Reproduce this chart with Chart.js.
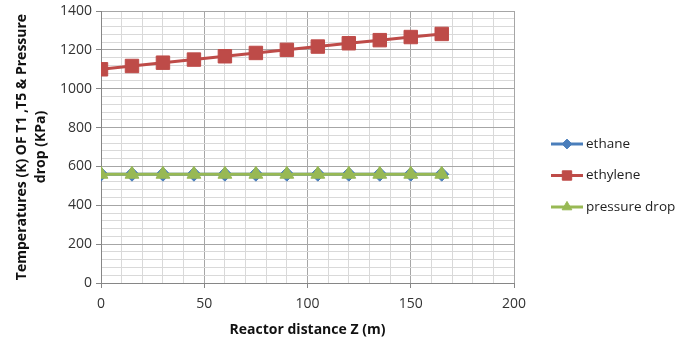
<!DOCTYPE html>
<html>
<head>
<meta charset="utf-8">
<script src="https://cdn.jsdelivr.net/npm/chart.js@4.4.1/dist/chart.umd.min.js"></script>
<style>
  html, body { margin: 0; padding: 0; background: #fff; }
  #wrap { width: 680px; height: 351px; position: relative; }
</style>
</head>
<body>
<div id="wrap"><canvas id="reactorChart"></canvas></div>
<script>
// reactor distance (m)
var distances = [0, 15, 30, 45, 60, 75, 90, 105, 120, 135, 150, 165];
var ethane = [560, 560, 560, 560, 560, 560, 560, 560, 560, 560, 560, 560];
var ethylene = [1100, 1117, 1134, 1150, 1167, 1184, 1200, 1217, 1234, 1250, 1266, 1282];
var pressureDrop = [560, 560, 560, 560, 560, 560, 560, 560, 560, 560, 560, 560];

var seriesNames = ["ethane", "ethylene", "pressure drop"];

function points(vals) {
  return distances.map(function (d, i) { return { x: d, y: vals[i] }; });
}

var baseFont = "'Open Sans', 'Liberation Sans', sans-serif";

var series = [
  { label: seriesNames[0], data: points(ethane), color: "#4a7ebb", style: "rectRot", r: 7, order: 3 },
  { label: seriesNames[1], data: points(ethylene), color: "#be4b48", style: "rect", r: 9.5, order: 2 },
  { label: seriesNames[2], data: points(pressureDrop), color: "#98b954", style: "triangle", r: 8, order: 1 },
];

var datasets = series.map(function (s) {
  return {
    label: s.label,
    data: s.data,
    borderColor: s.color,
    backgroundColor: s.color,
    borderWidth: 3,
    pointStyle: s.style,
    pointRadius: s.r,
    pointBorderWidth: 1,
    pointBorderColor: s.color,
    pointBackgroundColor: s.color,
    order: s.order,
  };
});

// legend drawn like Excel: short line with marker in the middle
var sideLegend = {
  id: "sideLegend",
  afterDraw: function (chart) {
    var ctx = chart.ctx;
    var x0 = chart.chartArea.right + 37;
    var mid = chart.height / 2;
    var gap = 31.5;
    ctx.save();
    series.forEach(function (s, i) {
      var y = mid + (i - 1) * gap;
      ctx.strokeStyle = s.color;
      ctx.fillStyle = s.color;
      ctx.lineWidth = 3;
      ctx.beginPath();
      ctx.moveTo(x0, y);
      ctx.lineTo(x0 + 32, y);
      ctx.stroke();
      ctx.lineWidth = 1;
      Chart.helpers.drawPoint(ctx, { pointStyle: s.style, radius: s.r * 0.7, borderWidth: 1, rotation: 0 }, x0 + 16, y);
      ctx.fillStyle = "#222";
      ctx.font = "13.5px " + baseFont;
      ctx.textBaseline = "middle";
      ctx.textAlign = "left";
      ctx.fillText(s.label, x0 + 35, y);
    });
    ctx.restore();
  }
};

var ctx = document.getElementById("reactorChart").getContext("2d");
var myChart = new Chart(ctx, {
  type: "line",
  data: { datasets: datasets },
  options: {
    responsive: true,
    maintainAspectRatio: false,
    animation: false,
    layout: { padding: { left: 0, top: 0, right: 166, bottom: 0 } },
    plugins: {
      legend: { display: false },
      tooltip: { enabled: false },
    },
    scales: {
      x: {
        type: "linear",
        min: 0,
        max: 200,
        afterFit: function (s) { s.height = 68; },
        ticks: {
          stepSize: 10,
          maxTicksLimit: 50,
          autoSkip: false,
          maxRotation: 0,
          color: "#333",
          font: { size: 14, family: baseFont },
          padding: 8,
          callback: function (v) { return v % 50 === 0 ? v : ""; },
        },
        grid: {
          color: function (c) { return c.tick && c.tick.value % 50 === 0 ? "#a6a6a6" : "#d9d9d9"; },
          tickColor: function (c) { return c.tick && c.tick.value % 50 === 0 ? "#868686" : "rgba(0,0,0,0)"; },
          tickLength: 5,
        },
        border: { color: "#868686" },
        title: {
          display: true,
          text: "Reactor distance Z (m)",
          color: "#111",
          font: { size: 14, weight: "bold", family: baseFont },
          padding: { top: 6, bottom: 13 },
        },
      },
      y: {
        min: 0,
        max: 1400,
        afterFit: function (s) { s.width = 101; },
        ticks: {
          stepSize: 40,
          maxTicksLimit: 50,
          autoSkip: false,
          color: "#333",
          font: { size: 14, family: baseFont, lineHeight: 1 },
          padding: 4,
          callback: function (v) { return v % 200 === 0 ? v : ""; },
        },
        grid: {
          color: function (c) { return c.tick && c.tick.value % 200 === 0 ? "#a6a6a6" : "#d9d9d9"; },
          tickColor: function (c) { return c.tick && c.tick.value % 200 === 0 ? "#868686" : "rgba(0,0,0,0)"; },
          tickLength: 5,
        },
        border: { color: "#868686" },
        title: {
          display: true,
          text: ["Temperatures (K) OF T1 ,T5 & Pressure", "drop (KPa)"],
          color: "#111",
          font: { size: 14, weight: "bold", family: baseFont, lineHeight: 1.4 },
          padding: { top: 12, bottom: 0 },
        },
      },
    },
  },
  plugins: [sideLegend],
});
</script>
</body>
</html>
